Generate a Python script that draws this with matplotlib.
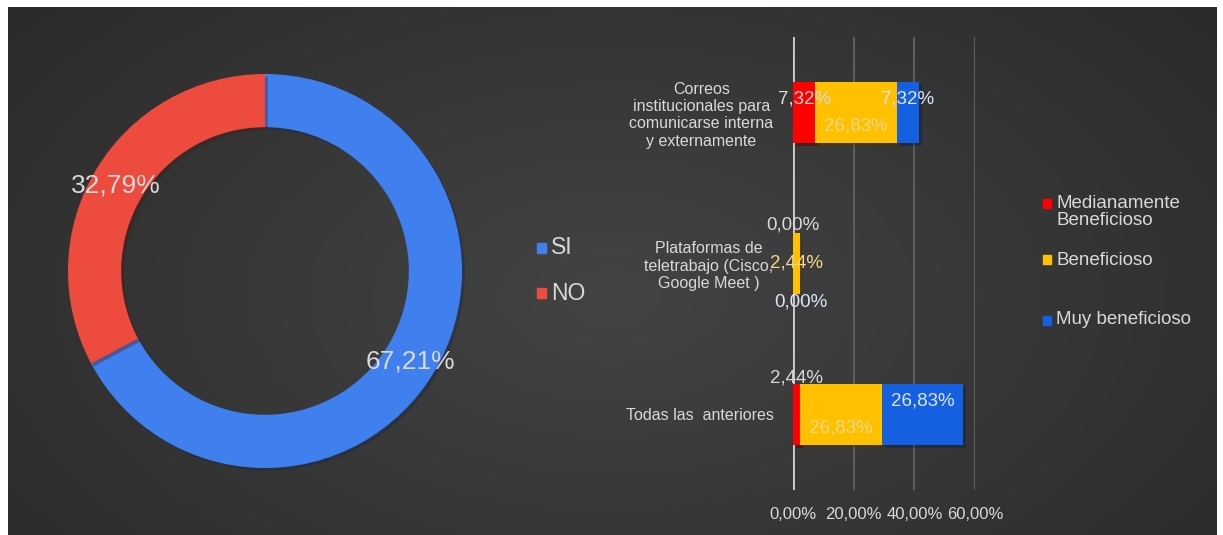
import numpy as np
import matplotlib.pyplot as plt
import matplotlib.patheffects as pe
from matplotlib.ticker import FuncFormatter

plt.rcParams['font.family'] = ['Liberation Sans', 'DejaVu Sans']

# donut data
pie_labels = ['SI', 'NO']
pie_values = [67.21, 32.79]
pie_colors = ['#3F80EE', '#EC4B3E']

# stacked bar data (percent)
categories = ['Correos\ninstitucionales para\ncomunicarse interna\ny externamente',
              'Plataformas de\nteletrabajo (Cisco,\nGoogle Meet )',
              'Todas las  anteriores']
series_names = ['Medianamente\nBeneficioso', 'Beneficioso', 'Muy beneficioso']
medianamente = [7.32, 0.00, 2.44]
beneficioso = [26.83, 2.44, 26.83]
muy_beneficioso = [7.32, 0.00, 26.83]
bar_colors = ['#FF0000', '#FFC000', '#1560E0']

W, H = 1223, 535
fig = plt.figure(figsize=(W / 100, H / 100), dpi=100)
fig.patch.set_facecolor('white')

def box(x0, y0, x1, y1):
    # pixel box (top-left origin) -> figure fraction rect
    return [x0 / W, 1 - y1 / H, (x1 - x0) / W, (y1 - y0) / H]

# dark gradient background
bg = fig.add_axes(box(8, 7, 1217, 535))
gx, gy = np.meshgrid(np.linspace(0, 1, 400), np.linspace(0, 1, 200))
shade = 0.265 - 0.09 * np.sqrt(((gx - 0.5) / 0.6) ** 2 + ((gy - 0.55) / 0.8) ** 2)
shade = np.clip(shade, 0.165, 0.27)
bg.imshow(np.dstack([shade, shade, shade]), aspect='auto', extent=[0, 1, 0, 1])
bg.axis('off')

text_col = '#D9D9D9'

# ---------------- donut ----------------
cx, cy, R = 265, 271, 197
ax1 = fig.add_axes(box(cx - 200, cy - 200, cx + 200, cy + 200))
r = R / 200
wedges, _ = ax1.pie(pie_values, colors=pie_colors, startangle=90, counterclock=False,
                    radius=r, wedgeprops=dict(width=r * 0.27, linewidth=0))
for w in wedges:
    w.set_path_effects([pe.SimplePatchShadow(offset=(2, -2), alpha=0.35), pe.Normal()])
ax1.set_xlim(-1, 1)
ax1.set_ylim(-1, 1)
ax1.set_aspect('equal')
ax1.axis('off')

# percentage labels on the ring
fig.text(410 / W, 1 - 362 / H, f'{pie_values[0]:.2f}%'.replace('.', ','),
         ha='center', va='center', color=text_col, fontsize=19)
fig.text(116 / W, 1 - 186 / H, f'{pie_values[1]:.2f}%'.replace('.', ','),
         ha='center', va='center', color=text_col, fontsize=19)

# donut legend
for i, (lab, col) in enumerate(zip(pie_labels, pie_colors)):
    y = 248 + i * 45
    fig.patches.append(plt.Rectangle((537 / W, 1 - (y + 5) / H), 9 / W, 10 / H,
                                     transform=fig.transFigure, color=col))
    fig.text(551 / W, 1 - y / H, lab, ha='left', va='center', color=text_col, fontsize=16.5)

# ---------------- stacked bars ----------------
ax2 = fig.add_axes(box(793, 37, 975, 490))
ax2.set_facecolor('none')
ypos = np.arange(len(categories))
left = np.zeros(len(categories))
series = [medianamente, beneficioso, muy_beneficioso]
for vals, col, name in zip(series, bar_colors, series_names):
    vals = np.array(vals) / 100
    bars = ax2.barh(ypos, vals, left=left, height=0.41, color=col, label=name, zorder=3)
    for b in bars:
        b.set_path_effects([pe.SimplePatchShadow(offset=(2, -2), alpha=0.4), pe.Normal()])
    left += vals

ax2.set_xlim(0, 0.6)
ax2.set_ylim(2.5, -0.5)
ax2.set_xticks([0, 0.2, 0.4, 0.6])
ax2.xaxis.set_major_formatter(FuncFormatter(lambda v, p: f'{v * 100:.2f}%'.replace('.', ',')))
ax2.grid(axis='x', color='#5E5E5E', linewidth=1.5, zorder=0)
ax2.axvline(0, color='#CFCFCF', linewidth=2, zorder=2)
ax2.set_yticks(ypos)
ax2.set_yticklabels(categories, multialignment='center')
ax2.tick_params(axis='both', length=0, colors=text_col)
ax2.tick_params(axis='x', pad=12, labelsize=12)
ax2.tick_params(axis='y', pad=14, labelsize=11.5)
for s in ax2.spines.values():
    s.set_visible(False)

# data labels: vertical offsets in points per series / category
label_dy = [[10, 28, 26], [-10, 0, -10], [10, -28, 10]]
label_cols = [text_col, '#F3D98A', '#DCE6F8']
starts = np.zeros(len(categories))
for k, vals in enumerate(series):
    for i, v in enumerate(vals):
        xc = (starts[i] + v / 200) if v > 0 else starts[i]
        ax2.annotate(f'{v:.2f}%'.replace('.', ','), (xc, ypos[i]),
                     xytext=(0, label_dy[k][i]), textcoords='offset points',
                     ha='center', va='center', color=label_cols[k], fontsize=13.5, zorder=5)
    starts += np.array(vals) / 100

# bar legend (marker sits on the first text line)
leg_y = [212, 260, 320]
for name, col, y in zip(series_names, bar_colors, leg_y):
    my = y - 9 if '\n' in name else y
    fig.patches.append(plt.Rectangle((1043 / W, 1 - (my + 4.5) / H), 8 / W, 9 / H,
                                     transform=fig.transFigure, color=col))
    fig.text(1056 / W, 1 - y / H, name, ha='left', va='center', color=text_col,
             fontsize=13.5, linespacing=1.05)

fig.savefig('out.png', dpi=100)
